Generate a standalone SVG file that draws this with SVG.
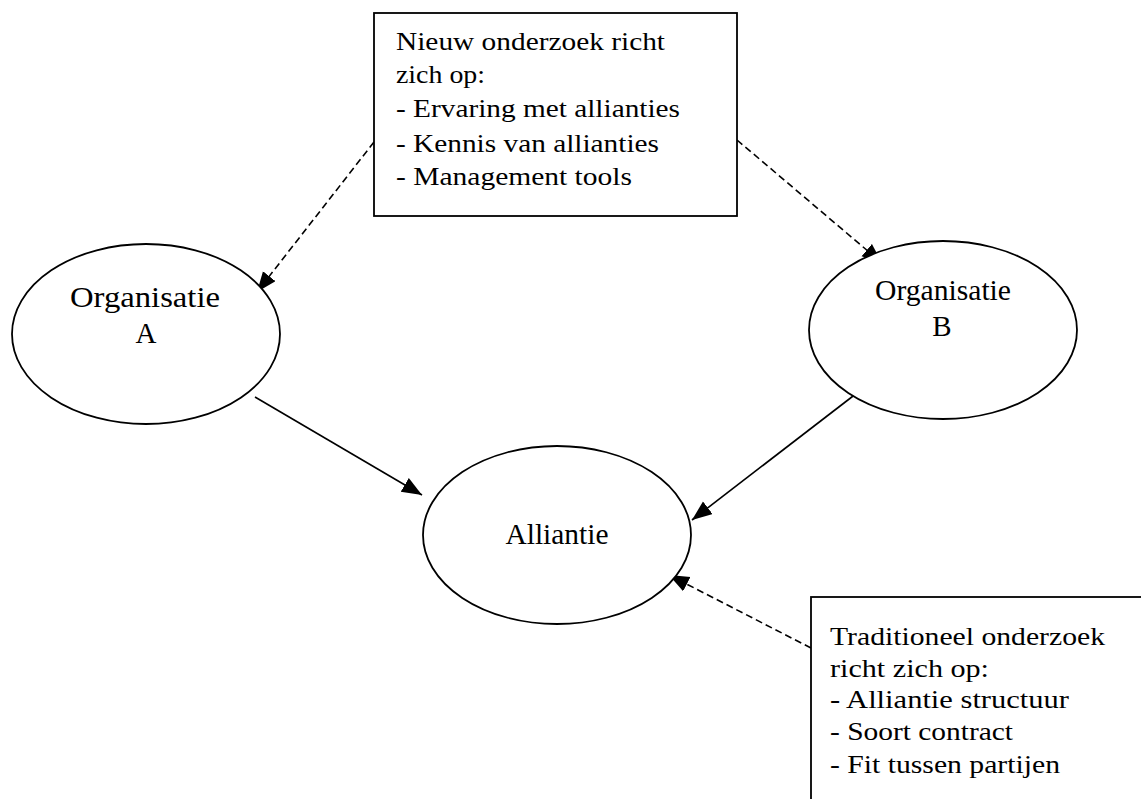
<svg xmlns="http://www.w3.org/2000/svg" width="1141" height="799" viewBox="0 0 1141 799">
<style>
.shape{fill:#fff;stroke:#000;stroke-width:1.8}
.t{font-family:"Liberation Serif","Times New Roman",serif;fill:#000}
.bt{font-size:25px}
.et{font-size:29px;text-anchor:middle}
.c{fill:none;stroke:#000;stroke-width:1.6}
.d{stroke-dasharray:7,4}
</style>
<defs>
<marker id="ah" markerUnits="userSpaceOnUse" markerWidth="22" markerHeight="18" refX="20" refY="8" orient="auto">
<path d="M0,0 L20,8 L0,16 z" fill="#000"/>
</marker>
</defs>
<rect width="1141" height="799" fill="#fff"/>
<g id="connectors">
<line class="c d" x1="374" y1="142" x2="257" y2="292" marker-end="url(#ah)"/>
<line class="c d" x1="737" y1="140" x2="882" y2="263" marker-end="url(#ah)"/>
<line class="c" x1="255" y1="397" x2="422" y2="495" marker-end="url(#ah)"/>
<line class="c" x1="857" y1="393" x2="692" y2="520" marker-end="url(#ah)"/>
<line class="c d" x1="811" y1="648" x2="669" y2="575" marker-end="url(#ah)"/>
</g>
<g id="box-nieuw">
<rect class="shape" x="374" y="13" width="363" height="203"/>
<text class="t bt" x="396" y="50" textLength="269" lengthAdjust="spacingAndGlyphs">Nieuw onderzoek richt</text>
<text class="t bt" x="396" y="83" textLength="89" lengthAdjust="spacingAndGlyphs">zich op:</text>
<text class="t bt" x="396" y="117" textLength="284" lengthAdjust="spacingAndGlyphs">- Ervaring met allianties</text>
<text class="t bt" x="396" y="152" textLength="263" lengthAdjust="spacingAndGlyphs">- Kennis van allianties</text>
<text class="t bt" x="396" y="185" textLength="236" lengthAdjust="spacingAndGlyphs">- Management tools</text>
</g>
<g id="org-a">
<ellipse class="shape" cx="146" cy="334" rx="134" ry="90"/>
<text class="t et" x="145" y="307" textLength="150" lengthAdjust="spacingAndGlyphs">Organisatie</text>
<text class="t et" x="146" y="343">A</text>
</g>
<g id="org-b">
<ellipse class="shape" cx="943" cy="330" rx="134" ry="89"/>
<text class="t et" x="943" y="300" textLength="136" lengthAdjust="spacingAndGlyphs">Organisatie</text>
<text class="t et" x="942" y="336">B</text>
</g>
<g id="alliantie">
<ellipse class="shape" cx="557" cy="535" rx="134" ry="89"/>
<text class="t et" x="557" y="544" textLength="103" lengthAdjust="spacingAndGlyphs">Alliantie</text>
</g>
<g id="box-traditioneel">
<rect class="shape" x="811" y="597" width="345" height="230"/>
<text class="t bt" x="830" y="645" textLength="275" lengthAdjust="spacingAndGlyphs">Traditioneel onderzoek</text>
<text class="t bt" x="830" y="677" textLength="159" lengthAdjust="spacingAndGlyphs">richt zich op:</text>
<text class="t bt" x="830" y="708" textLength="239" lengthAdjust="spacingAndGlyphs">- Alliantie structuur</text>
<text class="t bt" x="830" y="740" textLength="183" lengthAdjust="spacingAndGlyphs">- Soort contract</text>
<text class="t bt" x="830" y="773" textLength="230" lengthAdjust="spacingAndGlyphs">- Fit tussen partijen</text>
</g>
</svg>
